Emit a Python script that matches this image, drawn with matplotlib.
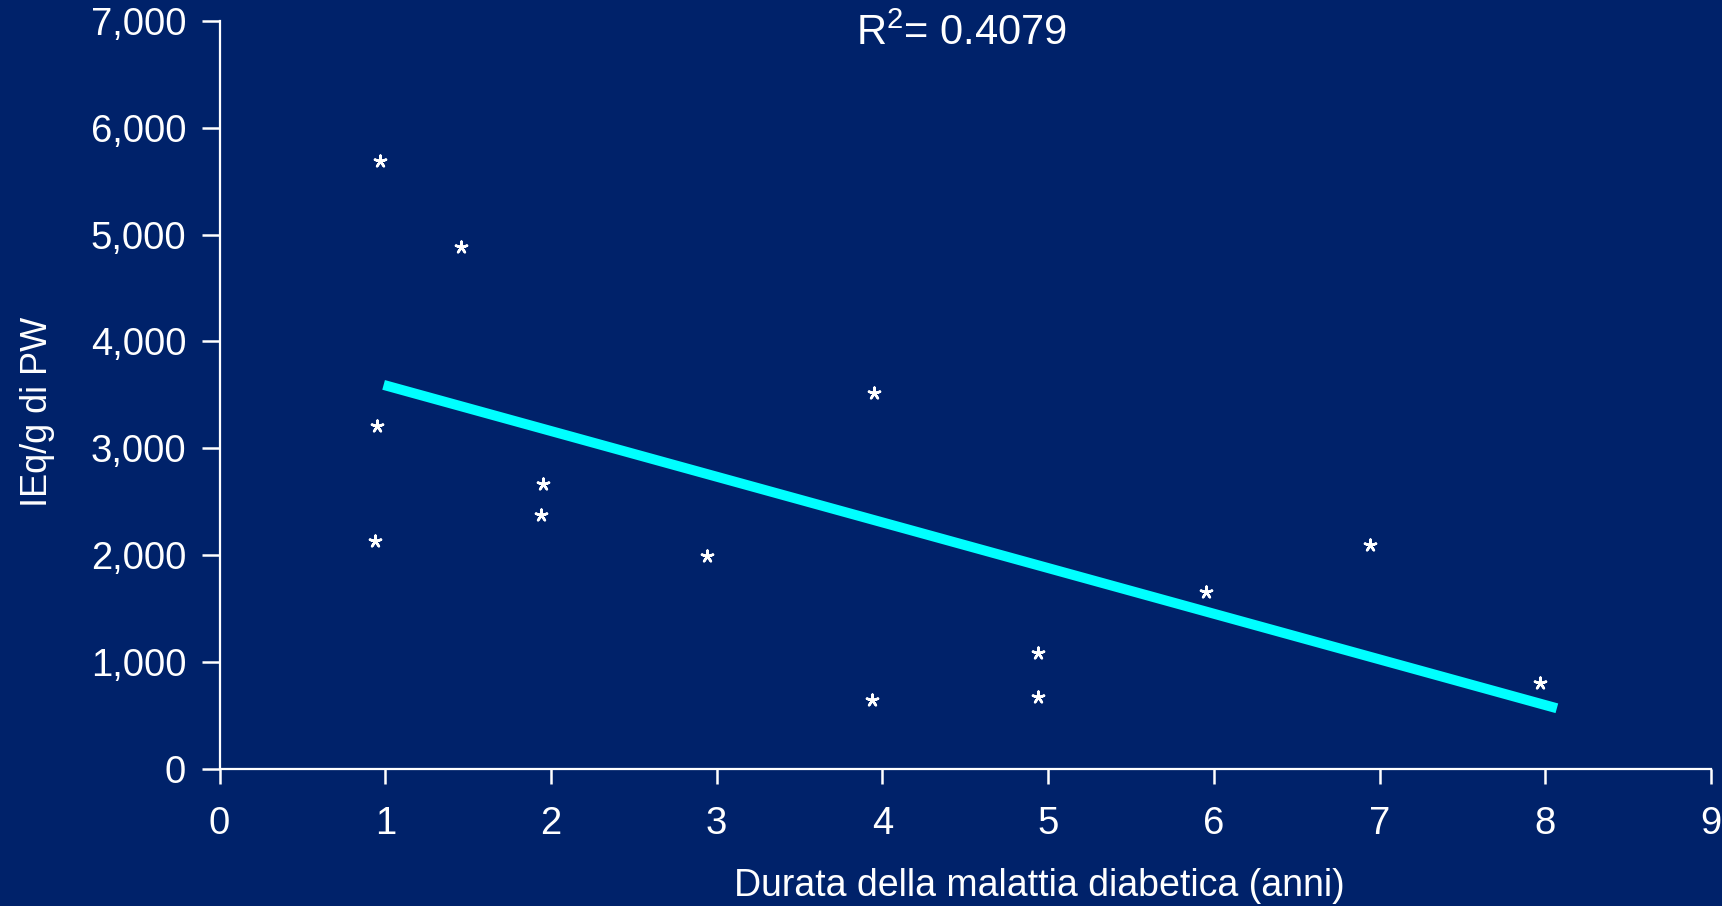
import matplotlib
matplotlib.use("Agg")
import numpy as np
import matplotlib.pyplot as plt

plt.rcParams["font.family"] = ["Liberation Sans", "DejaVu Sans"]
plt.rcParams["mathtext.fontset"] = "custom"
plt.rcParams["mathtext.rm"] = "Liberation Sans"
plt.rcParams["mathtext.default"] = "regular"

# duration of diabetes (years) vs IEq/g of pancreas weight
durata = [0.97, 1.46, 0.95, 0.94, 1.95, 1.94, 2.94, 3.95, 3.94, 4.94, 4.94, 5.95, 6.94, 7.97]
ieq = [5690, 4880, 3205, 2130, 2670, 2375, 1995, 3515, 640, 1080, 668, 1655, 2095, 805]

# fitted regression line end points
fit_x = [0.99, 8.07]
fit_y = [3593, 566]
r2 = 0.4079

x_ticks = list(range(0, 10))
y_ticks = list(range(0, 7001, 1000))

BG = "#00226A"
FG = "white"

fig = plt.figure(figsize=(17.22, 9.06), dpi=100, facecolor=BG)
ax = fig.add_axes([0.1275, 0.1515, 0.8661, 0.8254], facecolor=BG)

ax.plot(fit_x, fit_y, color="#00FFFF", linewidth=7.2, solid_capstyle="butt", zorder=2)
ax.scatter(durata, ieq, marker=(5, 2, 0), s=70, color=FG, linewidths=1.8, zorder=3)

ax.set_xlim(0, 9)
ax.set_ylim(0, 7000)
ax.set_xticks(x_ticks)
ax.set_yticks(y_ticks)
ax.set_yticklabels([f"{v:,}" for v in y_ticks])

for side in ("top", "right"):
    ax.spines[side].set_visible(False)
for side in ("left", "bottom"):
    ax.spines[side].set_color(FG)
    ax.spines[side].set_linewidth(1.6)

ax.tick_params(axis="y", direction="out", length=13, width=1.8, colors=FG,
               labelsize=27.5, pad=11)
ax.tick_params(axis="x", direction="out", length=10.5, width=1.8, colors=FG,
               labelsize=27.5, pad=16)

fig.text(962 / 1722, 1 - 45 / 906, f"R$^{{2}}$= {r2}", color=FG, fontsize=30,
         ha="center", va="baseline")
fig.text(1039 / 1722, 1 - 896 / 906, "Durata della malattia diabetica (anni)",
         color=FG, fontsize=27, ha="center", va="baseline")
fig.text(38 / 1722, 1 - 412 / 906, "IEq/g di PW", color=FG, fontsize=26,
         rotation=90, ha="center", va="center")

fig.savefig("out.png", dpi=100, facecolor=BG)
